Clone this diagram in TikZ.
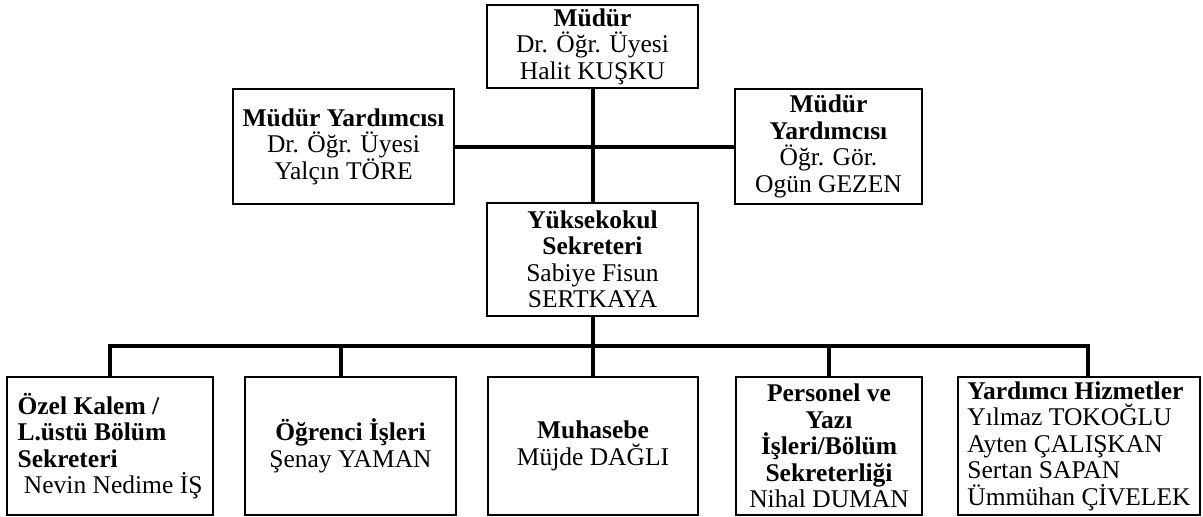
\documentclass[tikz,border=0pt]{standalone}
\usepackage{fontspec}
\setmainfont{Liberation Serif}
\begin{document}
\begin{tikzpicture}[x=1pt,y=-1pt,
		box/.style={draw,line width=2pt,inner sep=0pt,align=center,font=\fontsize{25.5}{26.5}\selectfont},
		leftbox/.style={box,align=left},
		link/.style={line width=4pt}]
		\useasboundingbox (0,0) rectangle (1203,517);
		% top
		\node[box,minimum width=211,minimum height=83] (mudur) at (592.5,46.5)
			{\textbf{Müdür}\\Dr. Öğr. Üyesi\\Halit KUŞKU};
		% assistants
		\node[box,minimum width=221,minimum height=115] (yrdA) at (343.5,146.5)
			{\textbf{Müdür Yardımcısı}\\Dr. Öğr. Üyesi\\Yalçın TÖRE};
		\node[box,minimum width=187,minimum height=115] (yrdB) at (828.5,146.5)
			{\textbf{Müdür}\\\textbf{Yardımcısı}\\Öğr. Gör.\\Ogün GEZEN};
		% secretary
		\node[box,minimum width=211,minimum height=113] (sekreter) at (592.5,259.5)
			{\textbf{Yüksekokul}\\\textbf{Sekreteri}\\Sabiye Fisun\\SERTKAYA};
		% units
		\node[leftbox,minimum width=206,minimum height=138] (ozel) at (110,446)
			{\textbf{Özel Kalem /}\\\textbf{L.üstü Bölüm}\\\textbf{Sekreteri}\\~Nevin Nedime İŞ};
		\node[box,minimum width=211,minimum height=138] (ogrenci) at (350.5,446)
			{\textbf{Öğrenci İşleri}\\Şenay YAMAN};
		\node[box,minimum width=210,minimum height=138] (muhasebe) at (593,446)
			{\textbf{Muhasebe}\\Müjde DAĞLI};
		\node[box,minimum width=186,minimum height=138] (personel) at (829,446)
			{\textbf{Personel ve}\\\textbf{Yazı}\\\textbf{İşleri/Bölüm}\\\textbf{Sekreterliği}\\Nihal DUMAN};
		\node[leftbox,minimum width=242,minimum height=138] (hizmet) at (1079,446)
			{\textbf{Yardımcı Hizmetler}\\Yılmaz TOKOĞLU\\Ayten ÇALIŞKAN\\Sertan SAPAN\\Ümmühan ÇİVELEK};
		% lines
		\coordinate (bus) at (0,346);
		\draw[link] (mudur.south) -- (mudur.south |- sekreter.north);
		\draw[link] (yrdA.east) -- (yrdB.west);
		\draw[link] (ozel.north) -- (ozel.north |- bus) -| ([xshift=9]hizmet.north);
		\draw[link] (sekreter.south) -- (sekreter.south |- muhasebe.north);
		\draw[link] ([xshift=-10]ogrenci.north) -- ([xshift=-10]ogrenci.north |- bus);
		\draw[link] (personel.north) -- (personel.north |- bus);
	\end{tikzpicture}
\end{document}
